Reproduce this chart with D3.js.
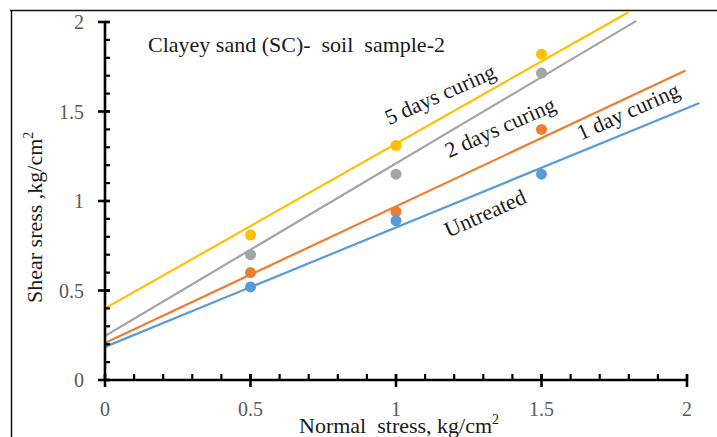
<!DOCTYPE html>
<html><head><meta charset="utf-8">
<script src="https://cdn.jsdelivr.net/npm/d3@7/dist/d3.min.js"></script>
<style>
body{margin:0;background:#fff;}
svg{display:block;}
svg text{font-family:"Liberation Serif","DejaVu Serif",serif;}
</style></head>
<body><svg id="c" width="717" height="437"></svg>
<script>
// ---- data ----
const seriesNames = ["5 days curing","2 days curing","1 day curing","Untreated"];
const seriesColors = ["#FFC000","#A5A5A5","#ED7D31","#5B9BD5"];
const normalStress = [0.5, 1.0, 1.5];
const shear5days = [0.81, 1.31, 1.82];
const shear2days = [0.70, 1.15, 1.715];
const shear1day = [0.60, 0.94, 1.40];
const shearUntreated = [0.52, 0.89, 1.15];
const trendIntercept = [0.40, 0.246, 0.207, 0.185];
const trendSlope = [0.92, 0.964, 0.763, 0.667];
const trendEndX = [1.80, 1.826, 1.995, 2.043];
const xTicks = [0, 0.5, 1, 1.5, 2];
const yTicks = [0, 0.5, 1, 1.5, 2];
const minorTicks = d3.range(0, 2.0001, 0.1);
const chartTitle = "Clayey sand (SC)-  soil  sample-2";
const seriesValues = [shear5days, shear2days, shear1day, shearUntreated];

const FONT = "Liberation Serif, DejaVu Serif, serif";
const svg = d3.select("#c");
const x = d3.scaleLinear().domain([0, 2]).range([105, 687]);
const y = d3.scaleLinear().domain([0, 2]).range([380, 22]);

// frame (top and left border)
svg.append("line").attr("x1",10).attr("x2",717).attr("y1",10.5).attr("y2",10.5).attr("stroke","#111").attr("stroke-width",1.5);
svg.append("line").attr("x1",11.5).attr("x2",11.5).attr("y1",10).attr("y2",437).attr("stroke","#111").attr("stroke-width",1.5);

// clip to below the frame
svg.append("clipPath").attr("id","clip").append("rect").attr("x",12).attr("y",11.5).attr("width",705).attr("height",420);

// trend lines
const g = svg.append("g").attr("clip-path","url(#clip)");
seriesNames.forEach((n,i)=>{
  g.append("line")
   .attr("x1", x(0)).attr("y1", y(trendIntercept[i]))
   .attr("x2", x(trendEndX[i])).attr("y2", y(trendIntercept[i] + trendSlope[i]*trendEndX[i]))
   .attr("stroke", seriesColors[i]).attr("stroke-width", 2.2);
});
// points
seriesNames.forEach((n,i)=>{
  g.selectAll(null).data(normalStress).enter().append("circle")
   .attr("cx", d=>x(d)).attr("cy", (d,j)=>y(seriesValues[i][j]))
   .attr("r", 5.5).attr("fill", seriesColors[i]);
});

// axes
const axG = svg.append("g");
axG.append("line").attr("x1",x(0)).attr("x2",x(0)).attr("y1",y(2)).attr("y2",y(0)+1).attr("stroke","#000").attr("stroke-width",2.6);
axG.append("line").attr("x1",x(0)-1).attr("x2",x(2)).attr("y1",y(0)).attr("y2",y(0)).attr("stroke","#000").attr("stroke-width",2.6);
minorTicks.forEach(v=>{
  axG.append("line").attr("x1",x(0)).attr("x2",x(0)+5).attr("y1",y(v)).attr("y2",y(v)).attr("stroke","#000").attr("stroke-width",2.2);
  axG.append("line").attr("x1",x(v)).attr("x2",x(v)).attr("y1",y(0)).attr("y2",y(0)-6).attr("stroke","#000").attr("stroke-width",2.2);
});
yTicks.forEach(v=>{
  axG.append("line").attr("x1",x(0)-7).attr("x2",x(0)+5).attr("y1",y(v)).attr("y2",y(v)).attr("stroke","#000").attr("stroke-width",2.6);
  axG.append("text").attr("x",84).attr("y",y(v)).attr("dy","0.35em").attr("text-anchor","end")
    .attr("font-family",FONT).attr("font-size",20).attr("fill","#595959").text(v);
});
xTicks.forEach(v=>{
  axG.append("line").attr("x1",x(v)).attr("x2",x(v)).attr("y1",y(0)-6).attr("y2",y(0)+7).attr("stroke","#000").attr("stroke-width",2.6);
  axG.append("text").attr("x",x(v)).attr("y",416).attr("text-anchor","middle")
    .attr("font-family",FONT).attr("font-size",20).attr("fill","#595959").text(v);
});

// title
svg.append("text").attr("x",148).attr("y",52).attr("font-family",FONT).attr("font-size",22).attr("fill","#1a1a1a")
  .style("white-space","pre").text(chartTitle);

// axis titles
const xt = svg.append("text").attr("x",299).attr("y",433).attr("font-family",FONT).attr("font-size",22).attr("fill","#1a1a1a").style("white-space","pre");
xt.append("tspan").text("Normal  stress, kg/cm");
xt.append("tspan").attr("font-size",14).attr("dy",-9).text("2");

const yt = svg.append("text").attr("transform","translate(42,303) rotate(-90)").attr("font-family",FONT).attr("font-size",22).attr("fill","#1a1a1a").style("white-space","pre");
yt.append("tspan").text("Shear sress ,kg/cm");
yt.append("tspan").attr("font-size",14).attr("dy",-9).text("2");

// series labels
const labelPos = [[440,94],[500,127],[628,111],[485,213]];
seriesNames.forEach((n,i)=>{
  svg.append("text").attr("transform",`translate(${labelPos[i][0]},${labelPos[i][1]}) rotate(-24)`)
    .attr("text-anchor","middle").attr("dy","0.35em").attr("font-family",FONT).attr("font-size",22).attr("fill","#1a1a1a").text(n);
});
</script></body></html>
